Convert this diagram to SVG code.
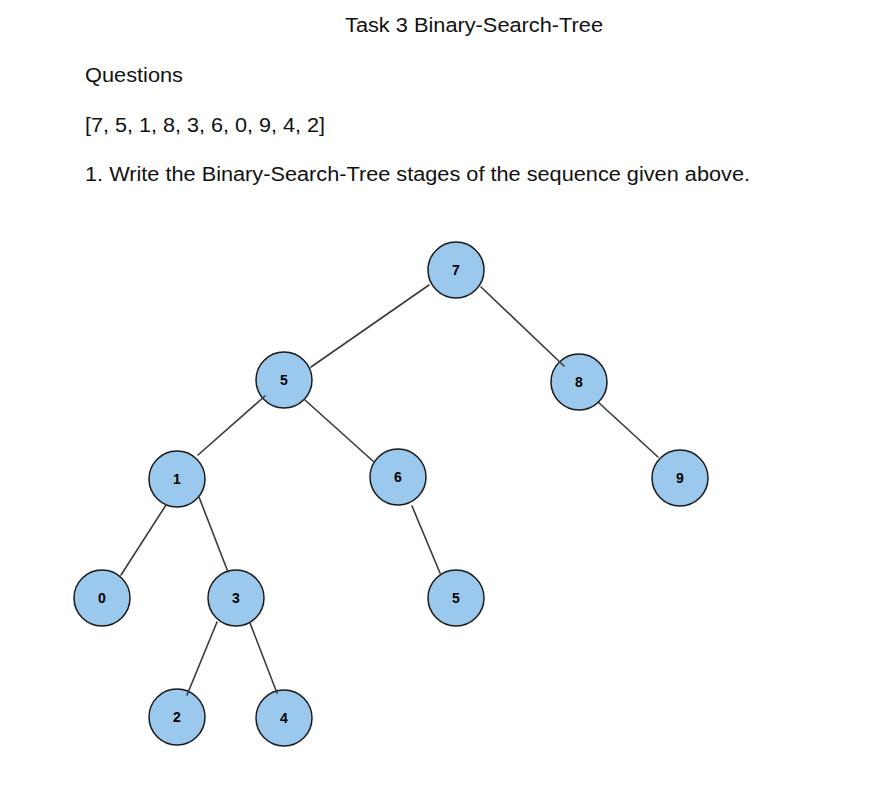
<svg xmlns="http://www.w3.org/2000/svg" width="877" height="806" viewBox="0 0 877 806">
<style>
.t{font-family:"Liberation Sans",Arial,sans-serif;font-size:20px;fill:#111}
.n circle{fill:#9BC9EE;stroke:#1a1a1a;stroke-width:1.5}
.n text{font-family:"Liberation Sans",Arial,sans-serif;font-size:14px;font-weight:bold;fill:#000;text-anchor:middle}
.e line{stroke:#3a3a3a;stroke-width:1.6;stroke-linecap:round}
</style>
<rect width="877" height="806" fill="#fff"/>
<g id="texts">
<text class="t" x="345" y="32" textLength="258" lengthAdjust="spacingAndGlyphs">Task 3 Binary-Search-Tree</text>
<text class="t" x="85" y="82" textLength="98" lengthAdjust="spacingAndGlyphs">Questions</text>
<text class="t" x="85" y="132" textLength="240" lengthAdjust="spacingAndGlyphs">[7, 5, 1, 8, 3, 6, 0, 9, 4, 2]</text>
<text class="t" x="85" y="181" textLength="665" lengthAdjust="spacingAndGlyphs">1. Write the Binary-Search-Tree stages of the sequence given above.</text>
</g>
<g id="n7" class="n"><circle cx="456" cy="270" r="28"/><text x="456" y="275">7</text></g>
<g id="n5" class="n"><circle cx="284" cy="380" r="28"/><text x="284" y="385">5</text></g>
<g id="n8" class="n"><circle cx="579" cy="382" r="28"/><text x="579" y="387">8</text></g>
<g id="n1" class="n"><circle cx="177" cy="479" r="28"/><text x="177" y="484">1</text></g>
<g id="n6" class="n"><circle cx="398" cy="477" r="28"/><text x="398" y="482">6</text></g>
<g id="n9" class="n"><circle cx="680" cy="478" r="28"/><text x="680" y="483">9</text></g>
<g id="n0" class="n"><circle cx="102" cy="598" r="28"/><text x="102" y="603">0</text></g>
<g id="n3" class="n"><circle cx="236" cy="598" r="28"/><text x="236" y="603">3</text></g>
<g id="n5b" class="n"><circle cx="456" cy="598" r="28"/><text x="456" y="603">5</text></g>
<g id="n2" class="n"><circle cx="177" cy="717" r="28"/><text x="177" y="722">2</text></g>
<g id="n4" class="n"><circle cx="284" cy="718" r="28"/><text x="284" y="723">4</text></g>
<g id="connectors" class="e">
<line x1="429" y1="285" x2="311" y2="367"/>
<line x1="481" y1="287" x2="564" y2="366"/>
<line x1="265" y1="396" x2="198" y2="455"/>
<line x1="305" y1="400" x2="374" y2="462"/>
<line x1="598" y1="402" x2="658" y2="457"/>
<line x1="166" y1="505" x2="121" y2="575"/>
<line x1="199" y1="497" x2="228" y2="572"/>
<line x1="412" y1="506" x2="440" y2="573"/>
<line x1="217" y1="622" x2="187" y2="695"/>
<line x1="250" y1="623" x2="277" y2="693"/>
</g>
</svg>
